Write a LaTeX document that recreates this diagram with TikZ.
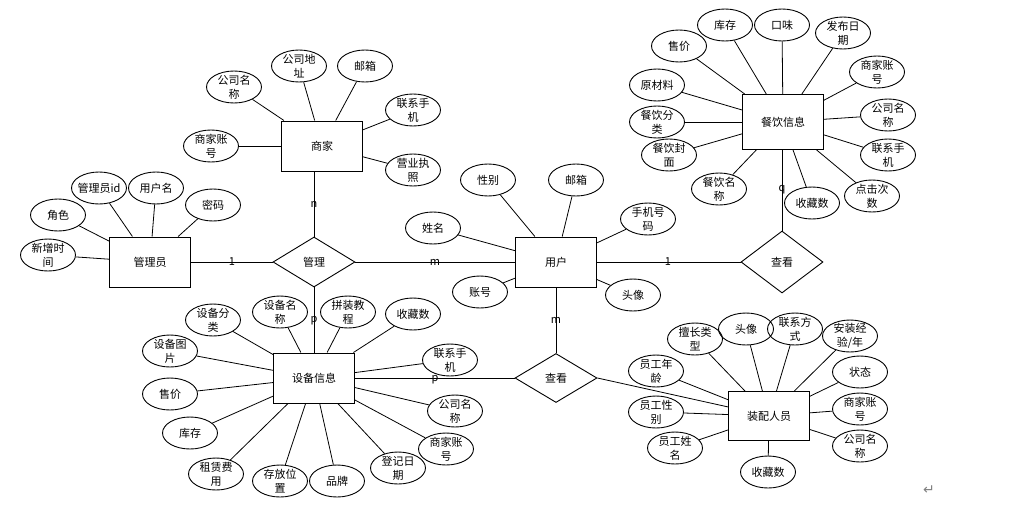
\documentclass[tikz,border=0pt]{standalone}
\usepackage{fontspec}
\setmainfont{Noto Sans CJK SC}
\newfontfamily\symfont{DejaVu Sans}
\usetikzlibrary{shapes.geometric}

\begin{document}
\begin{tikzpicture}[x=1pt, y=-1pt,
    every node/.style={font=\fontsize{11}{14}\selectfont},
    entity/.style={draw, line width=1pt, rectangle, minimum width=81pt, minimum height=50pt, inner sep=0pt},
    relation/.style={draw, line width=0.9pt, diamond, minimum width=82pt, minimum height=50pt, inner sep=0pt, aspect=1.6},
    attr/.style={draw, line width=0.9pt, ellipse, minimum width=55pt, minimum height=32pt, inner sep=-20pt, align=center},
    card/.style={inner sep=1pt},
    link/.style={line width=0.8pt}]
    \useasboundingbox (0,0) rectangle (1022,517);

    % entities and relations
    \node [entity] (shangjia) at (322,146) {商家};
    \node [entity] (guanliyuan) at (150,262) {管理员};
    \node [entity] (yonghu) at (556,262) {用户};
    \node [entity, minimum height=55pt] (canyin) at (783,122) {餐饮信息};
    \node [entity] (shebei) at (314,378) {设备信息};
    \node [entity, minimum height=49pt] (zhuangpei) at (769,416) {装配人员};
    \node [relation] (guanli) at (314,262) {管理};
    \node [relation, minimum height=62pt, aspect=1.3] (chakanA) at (782,262) {查看};
    \node [relation, minimum height=49pt] (chakanB) at (556,378) {查看};

    % 商家
    \node [attr] (sj1) at (234,87) {公司名\\称};
    \node [attr] (sj2) at (299,66) {公司地\\址};
    \node [attr] (sj3) at (365,66) {邮箱};
    \node [attr] (sj4) at (413,110) {联系手\\机};
    \node [attr] (sj5) at (413,170) {营业执\\照};
    \node [attr] (sj6) at (211,146) {商家账\\号};
    \foreach \a in {sj1,sj2,sj3,sj4,sj5,sj6}
        \draw [link] (\a) -- (shangjia);

    % 管理员
    \node [attr] (gl1) at (99,188) {管理员id};
    \node [attr] (gl2) at (156,188) {用户名};
    \node [attr] (gl3) at (213,205) {密码};
    \node [attr] (gl4) at (58,215) {角色};
    \node [attr] (gl5) at (48,255) {新增时\\间};
    \foreach \a in {gl1,gl2,gl3,gl4,gl5}
        \draw [link] (\a) -- (guanliyuan);

    % 用户
    \node [attr] (yh1) at (488,180) {性别};
    \node [attr] (yh2) at (576,180) {邮箱};
    \node [attr] (yh3) at (433,228) {姓名};
    \node [attr] (yh4) at (648,219) {手机号\\码};
    \node [attr] (yh5) at (480,292) {账号};
    \node [attr] (yh6) at (633,295) {头像};
    \foreach \a in {yh1,yh2,yh3,yh4,yh5,yh6}
        \draw [link] (\a) -- (yonghu);

    % 餐饮信息
    \node [attr] (cy1) at (679,46) {售价};
    \node [attr] (cy2) at (725,25) {库存};
    \node [attr] (cy3) at (782,25) {口味};
    \node [attr] (cy4) at (843,33) {发布日\\期};
    \node [attr] (cy5) at (877,72) {商家账\\号};
    \node [attr] (cy6) at (657,85) {原材料};
    \node [attr] (cy7) at (888,115) {公司名\\称};
    \node [attr] (cy8) at (657,122) {餐饮分\\类};
    \node [attr] (cy9) at (888,155) {联系手\\机};
    \node [attr] (cy10) at (669,155) {餐饮封\\面};
    \node [attr] (cy11) at (719,189) {餐饮名\\称};
    \node [attr] (cy12) at (812,203) {收藏数};
    \node [attr] (cy13) at (872,196) {点击次\\数};
    \foreach \a in {cy1,cy2,cy3,cy4,cy5,cy6,cy7,cy8,cy9,cy10,cy11,cy12,cy13}
        \draw [link] (\a) -- (canyin);

    % 设备信息
    \node [attr] (sb1) at (213,320) {设备分\\类};
    \node [attr] (sb2) at (280,312) {设备名\\称};
    \node [attr] (sb3) at (348,312) {拼装教\\程};
    \node [attr] (sb4) at (413,314) {收藏数};
    \node [attr] (sb5) at (170,351) {设备图\\片};
    \node [attr] (sb6) at (450,360) {联系手\\机};
    \node [attr] (sb7) at (170,394) {售价};
    \node [attr] (sb8) at (455,411) {公司名\\称};
    \node [attr] (sb9) at (190,433) {库存};
    \node [attr] (sb10) at (446,449) {商家账\\号};
    \node [attr] (sb11) at (216,474) {租赁费\\用};
    \node [attr] (sb12) at (280,481) {存放位\\置};
    \node [attr] (sb13) at (337,481) {品牌};
    \node [attr] (sb14) at (398,468) {登记日\\期};
    \foreach \a in {sb1,sb2,sb3,sb4,sb5,sb6,sb7,sb8,sb9,sb10,sb11,sb12,sb13,sb14}
        \draw [link] (\a) -- (shebei);

    % 装配人员
    \node [attr] (zp1) at (695,339) {擅长类\\型};
    \node [attr] (zp2) at (746,329) {头像};
    \node [attr] (zp3) at (795,329) {联系方\\式};
    \node [attr] (zp4) at (850,336) {安装经\\验/年};
    \node [attr] (zp5) at (656,371) {员工年\\龄};
    \node [attr] (zp6) at (860,372) {状态};
    \node [attr] (zp7) at (656,412) {员工性\\别};
    \node [attr] (zp8) at (860,409) {商家账\\号};
    \node [attr] (zp9) at (675,448) {员工姓\\名};
    \node [attr] (zp10) at (860,446) {公司名\\称};
    \node [attr] (zp11) at (768,472) {收藏数};
    \foreach \a in {zp1,zp2,zp3,zp4,zp5,zp6,zp7,zp8,zp9,zp10,zp11}
        \draw [link] (\a) -- (zhuangpei);

    % relationships
    \draw [link] (guanliyuan) -- (guanli);
    \draw [link] (guanli) -- (yonghu);
    \draw [link] (guanli.north) -- (guanli.north |- shangjia.south);
    \draw [link] (guanli.south) -- (shebei);
    \draw [link] (yonghu) -- (chakanA);
    \draw [link] (chakanA.north) -- (chakanA.north |- canyin.south);
    \draw [link] (yonghu) -- (chakanB);
    \draw [link] (shebei) -- (chakanB);
    \draw [link] (chakanB.east) -- (zhuangpei);

    \node [card] (c1) at (232,262) {1};
    \node [card] (c2) at (435,262) {m};
    \node [card] (c3) at (314,204) {n};
    \node [card] (c4) at (314,321) {p};
    \node [card] (c5) at (668,262) {1};
    \node [card] (c6) at (782,190) {q};
    \node [card] (c7) at (556,320) {m};
    \node [card] (c8) at (435,380) {p};

    \node [text=gray, font=\symfont\fontsize{14}{14}\selectfont] (mark) at (929,490) {↵};
\end{tikzpicture}
\end{document}
